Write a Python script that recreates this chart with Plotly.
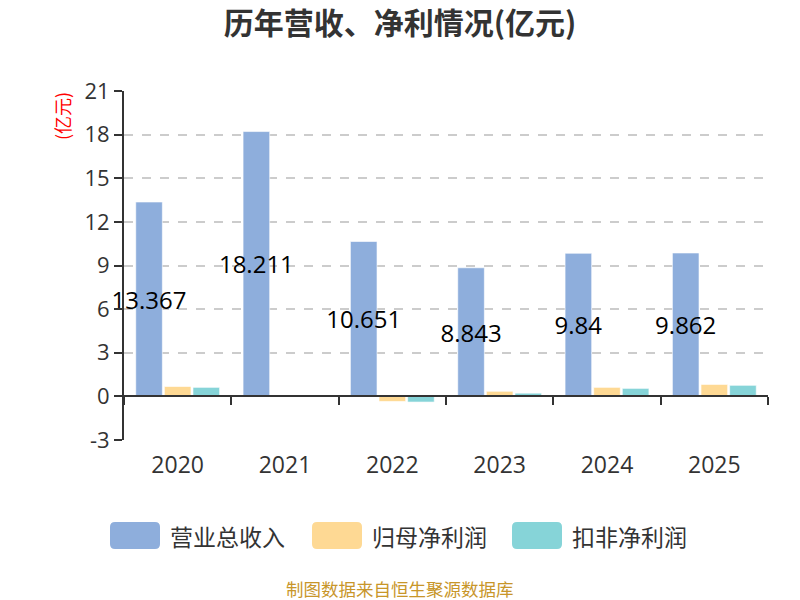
import plotly.graph_objects as go

years = ["2020", "2021", "2022", "2023", "2024", "2025"]
revenue = [13.367, 18.211, 10.651, 8.843, 9.84, 9.862]
net_profit = [0.68, 0.05, -0.35, 0.35, 0.62, 0.82]
deducted_profit = [0.62, 0.02, -0.39, 0.22, 0.55, 0.76]
revenue_labels = ["13.367", "18.211", "10.651", "8.843", "9.84", "9.862"]
series_names = ["营业总收入", "归母净利润", "扣非净利润"]
y_ticks = [-3, 0, 3, 6, 9, 12, 15, 18, 21]
y_tick_labels = ["-3", "0", "3", "6", "9", "12", "15", "18", "21"]

COLORS = ["#8eaedc", "#fed994", "#86d4d8"]
FONT = "Open Sans, Noto Sans CJK SC, sans-serif"
CJK = "Noto Sans CJK SC, sans-serif"

W, H = 800, 600
ML, MR, MT, MB = 124, 32, 91, 160
PW, PH = W - ML - MR, H - MT - MB


def px(x):
    return (x - ML) / PW


def py(y):
    return (H - MB - y) / PH


fig = go.Figure()
series_values = [revenue, net_profit, deducted_profit]
for i, (name, vals) in enumerate(zip(series_names, series_values)):
    kw = {}
    if i == 0:
        kw = dict(text=revenue_labels, textposition="inside", insidetextanchor="middle",
                  textangle=0, insidetextfont=dict(color="#000000", size=24, family=FONT),
                  constraintext="none", cliponaxis=False)
    fig.add_trace(go.Bar(
        name=name, x=years, y=vals, showlegend=False,
        marker=dict(color=COLORS[i], line=dict(color="rgba(255,255,255,0.6)", width=1)),
        hoverinfo="skip", **kw,
    ))

# helper trace for the zero-line category axis (ticks at boundaries)
fig.add_trace(go.Scatter(x=years, y=[None] * len(years), xaxis="x2", yaxis="y",
                         showlegend=False, hoverinfo="skip", mode="lines"))

# custom legend: rounded rectangles + labels
shapes = []
annotations = []
leg_x0 = [110, 312, 512]
rw, rh, r = 50, 27, 5
ytop, ybot = 522, 549
for i, name in enumerate(series_names):
    x0 = leg_x0[i]
    x1 = x0 + rw
    path = (f"M {px(x0 + r)} {py(ytop)} L {px(x1 - r)} {py(ytop)} "
            f"Q {px(x1)} {py(ytop)} {px(x1)} {py(ytop + r)} "
            f"L {px(x1)} {py(ybot - r)} Q {px(x1)} {py(ybot)} {px(x1 - r)} {py(ybot)} "
            f"L {px(x0 + r)} {py(ybot)} Q {px(x0)} {py(ybot)} {px(x0)} {py(ybot - r)} "
            f"L {px(x0)} {py(ytop + r)} Q {px(x0)} {py(ytop)} {px(x0 + r)} {py(ytop)} Z")
    shapes.append(dict(type="path", path=path, xref="paper", yref="paper",
                       fillcolor=COLORS[i], line=dict(width=0)))
    annotations.append(dict(text=name, xref="paper", yref="paper", x=px(x1 + 8),
                            y=py((ytop + ybot) / 2), xanchor="left", yanchor="middle",
                            showarrow=False, font=dict(size=23, color="#333333", family=CJK)))

annotations += [
    dict(text="(亿元)", xref="paper", yref="paper", x=px(62), y=py(116),
         xanchor="center", yanchor="middle",
         textangle=-90, showarrow=False, font=dict(size=18, color="#ff0000", family=CJK)),
    dict(text="制图数据来自恒生聚源数据库", xref="paper", yref="paper",
         x=0.5 * (px(0) + px(W)), y=py(588), xanchor="center", yanchor="middle",
         showarrow=False, font=dict(size=17.5, color="#c8962a", family=CJK)),
]

fig.update_layout(
    width=W, height=H,
    margin=dict(l=ML, r=MR, t=MT, b=MB),
    paper_bgcolor="white", plot_bgcolor="white",
    barmode="group", bargap=0.2, bargroupgap=0.07,
    uniformtext=dict(minsize=24, mode="show"),
    showlegend=False,
    font=dict(family=FONT, color="#333333"),
    title=dict(text="<b>历年营收、净利情况(亿元)</b>", x=0.5, xanchor="center",
               y=1 - 23 / H, yanchor="middle",
               font=dict(size=30, color="#333333", family=CJK)),
    xaxis=dict(showline=False, ticks="", showgrid=False, zeroline=False,
               tickfont=dict(size=23, color="#333333", family=FONT), ticklabelstandoff=9),
    xaxis2=dict(overlaying="x", matches="x", anchor="free", position=0.125,
                showline=True, linecolor="#333333", linewidth=2,
                ticks="outside", tickson="boundaries", ticklen=8, tickwidth=2,
                tickcolor="#333333", showticklabels=False, showgrid=False),
    yaxis=dict(range=[-3, 21], tickvals=y_ticks, ticktext=y_tick_labels,
               showline=True, linecolor="#333333",
               linewidth=2, ticks="outside", ticklen=8, tickwidth=2, tickcolor="#333333",
               showgrid=True, gridcolor="#cccccc", griddash="dash", gridwidth=1.5,
               zeroline=False, tickfont=dict(size=22, color="#333333", family=FONT)),
    shapes=shapes,
    annotations=annotations,
)

fig.write_html("out.html", config={"displayModeBar": False},
               post_script="document.body.style.margin='0px';")
